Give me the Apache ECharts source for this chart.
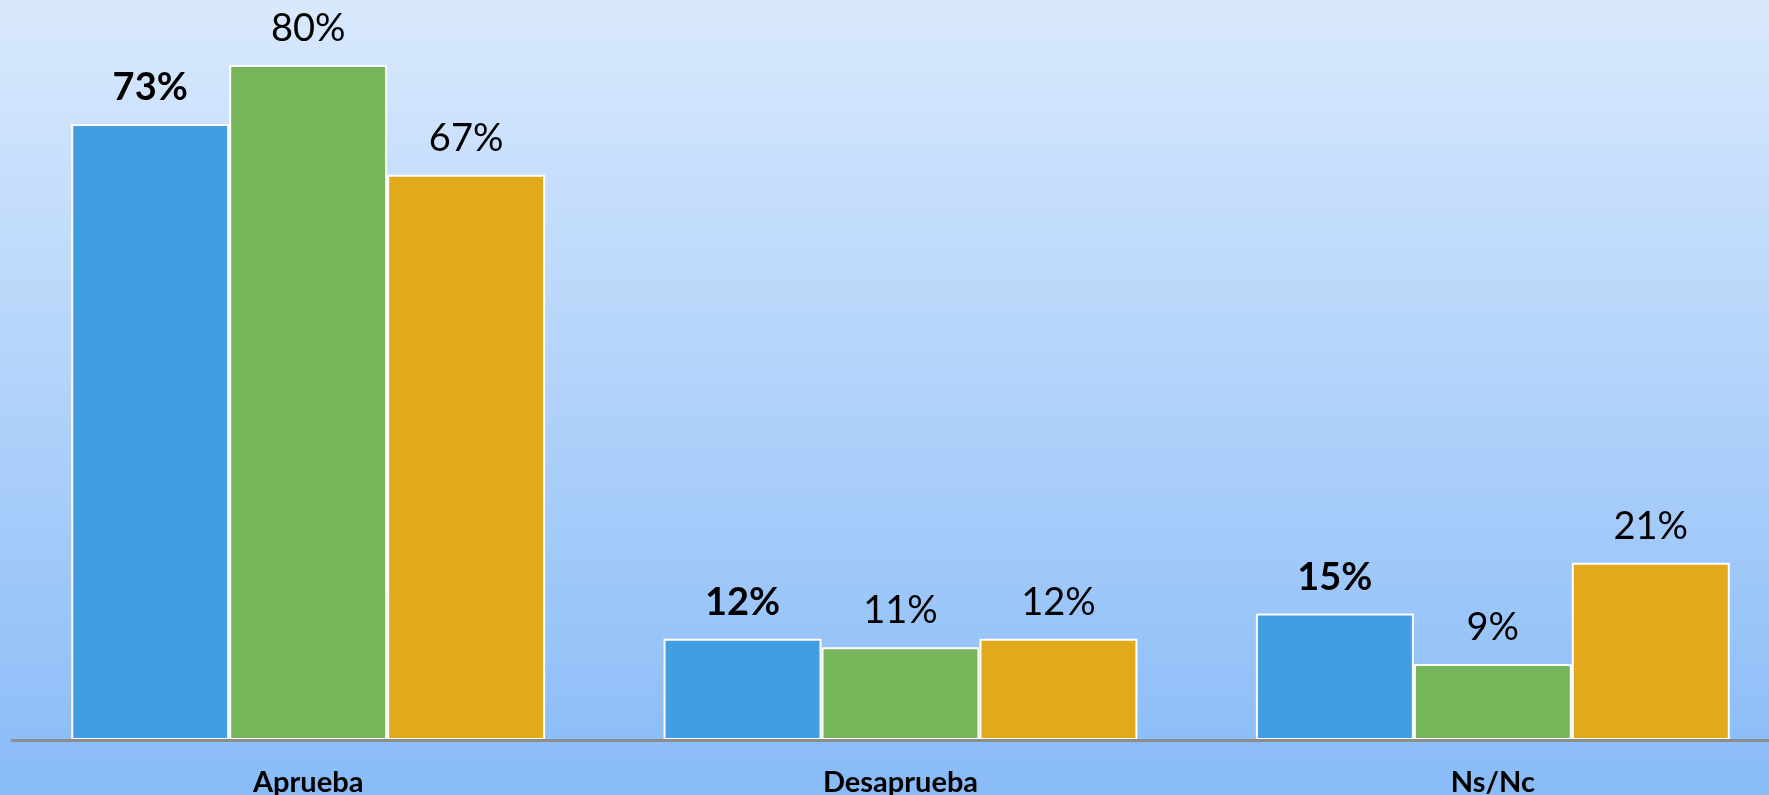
<!DOCTYPE html>
<html>
<head>
<meta charset="utf-8">
<script src="https://cdn.jsdelivr.net/npm/echarts@6/dist/echarts.min.js"></script>
<style>
html,body{margin:0;padding:0;}
#chart{width:1769px;height:795px;}
</style>
</head>
<body>
<div id="chart"></div>
<script>
const categories = ['Aprueba', 'Desaprueba', 'Ns/Nc'];
const seriesNames = ['Serie 1', 'Serie 2', 'Serie 3'];
const values1 = [73, 12, 15];
const values2 = [80, 11, 9];
const values3 = [67, 12, 21];
const seriesColors = ['#419ee3', '#77b55a', '#e2a91d'];

const chart = echarts.init(document.getElementById('chart'));
const dataSets = [values1, values2, values3];
const fontFamily = 'Lato, "Open Sans", sans-serif';

const series = dataSets.map((vals, i) => ({
  name: seriesNames[i],
  type: 'bar',
  data: vals,
  barGap: '0%',
  barCategoryGap: '20%',
  itemStyle: { color: seriesColors[i], borderColor: '#ffffff', borderWidth: 2 },
  label: {
    show: true,
    position: 'top',
    distance: 17,
    formatter: '{c}%',
    color: '#000000',
    fontFamily: fontFamily,
    fontSize: 38,
    fontWeight: i === 0 ? 'bold' : 'normal'
  }
}));

chart.setOption({
  backgroundColor: {
    type: 'linear', x: 0, y: 0, x2: 0, y2: 1,
    colorStops: [
      { offset: 0, color: '#d9e9fd' },
      { offset: 1, color: '#88bbf7' }
    ]
  },
  animation: false,
  grid: { left: 12, width: 1777, top: 65, bottom: 55, containLabel: false, outerBoundsMode: 'none' },
  xAxis: {
    type: 'category',
    data: categories,
    axisTick: { show: false },
    axisLine: { show: true, lineStyle: { color: '#8c8c8c', width: 3 } },
    axisLabel: {
      color: '#000000',
      fontFamily: fontFamily,
      fontWeight: 'bold',
      fontSize: 29,
      margin: 28
    },
    z: 5
  },
  yAxis: {
    type: 'value',
    min: 0,
    max: 80,
    show: false,
    splitLine: { show: false }
  },
  series: series
});
</script>
</body>
</html>
